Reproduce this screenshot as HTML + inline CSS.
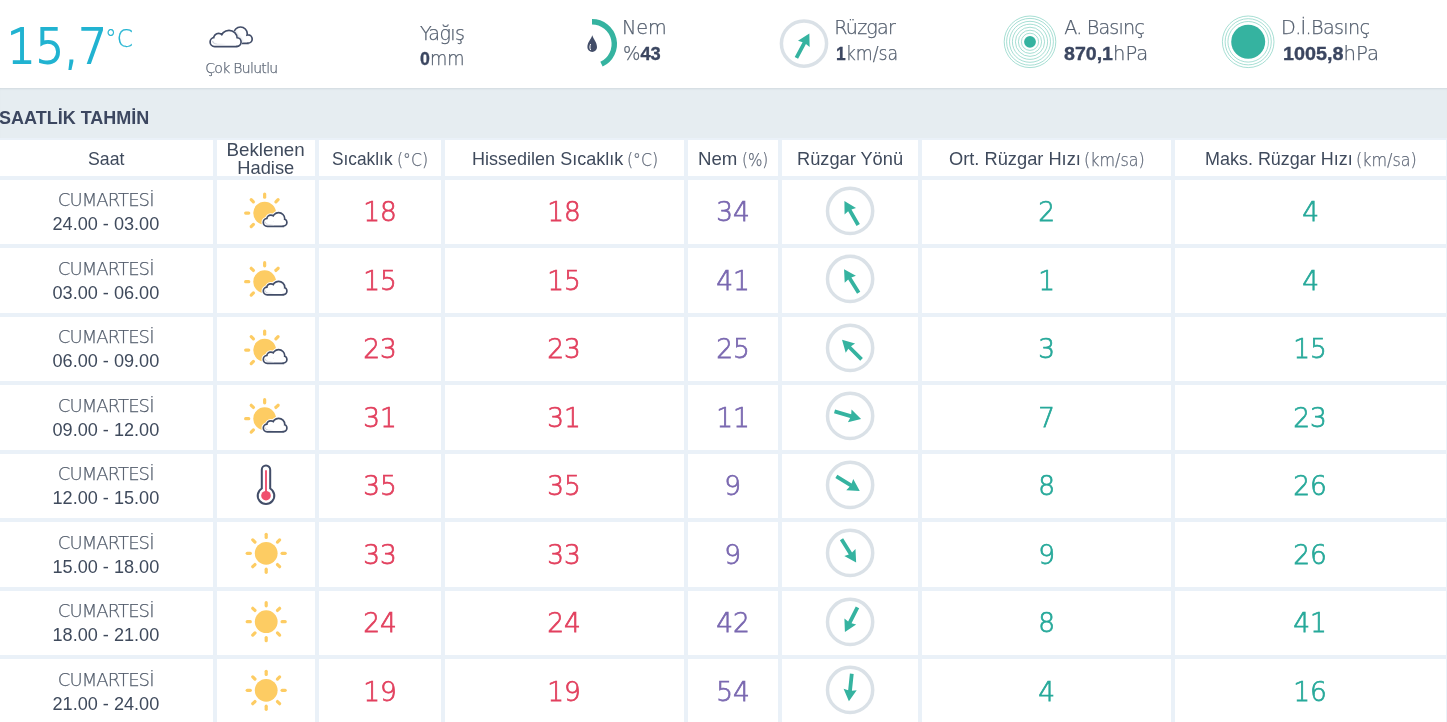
<!DOCTYPE html>
<html lang="tr"><head><meta charset="utf-8"><title>Saatlik Tahmin</title>
<style>
*{margin:0;padding:0;box-sizing:border-box}
html,body{width:1447px;height:722px;overflow:hidden;background:#fff}
body{position:relative;font-family:"Liberation Sans", Arial, sans-serif;color:#3f4a5c}
.a{position:absolute;white-space:nowrap}
.band{position:absolute;left:0;top:88px;width:1447px;height:50px;background:#e6edf1;box-shadow:inset 0 2px 2px -1px rgba(60,80,100,.12)}
.tbl{position:absolute;left:0;top:138px;width:1447px;height:584px;background:#eaf1f8}
.c{position:absolute;background:#fff}
.lt{color:#5f6878;font-family:"DejaVu Sans",sans-serif;font-weight:200;-webkit-text-stroke:.25px currentColor}
b{font-weight:bold;color:#3b4660}
svg.a{left:0;top:0;overflow:visible}
.l{font-family:"DejaVu Sans",sans-serif;font-weight:200;-webkit-text-stroke:.25px currentColor}
.n{font-family:"DejaVu Sans",sans-serif;font-weight:200;-webkit-text-stroke:.75px currentColor}
.l b{font-family:"Liberation Sans", Arial, sans-serif;-webkit-text-stroke:.35px currentColor}
</style></head><body>

<div class="a " style="left:6.5px;top:23.01px;font-size:47.6px;line-height:47.6px;color:#21b3d1;font-family:'DejaVu Sans',sans-serif;font-weight:200;-webkit-text-stroke:1.8px #21b3d1;"><span style="display:inline-block;transform:scaleX(0.945);transform-origin:left">15,7</span></div>
<div class="a l" style="left:104.5px;top:26.86px;font-size:24.5px;line-height:24.5px;color:#21b3d1;"><span style="display:inline-block;transform:scaleX(0.95);transform-origin:left">°C</span></div>
<div class="a l" style="left:205.2px;top:61.35px;font-size:14px;line-height:14px;color:#5e6877;"><span style="letter-spacing:-0.690px">Çok Bulutlu</span></div>
<div class="a l" style="left:419.9px;top:23.65px;font-size:19.2px;line-height:19.2px;color:#525d6d;"><span style="letter-spacing:-0.625px">Yağış</span></div>
<div class="a l" style="left:420px;top:49.12px;font-size:19px;line-height:19px;color:#525d6d;"><span style="display:inline-block;transform:scaleX(0.935);transform-origin:left"><b>0</b>mm</span></div>
<div class="a l" style="left:622.1px;top:17.55px;font-size:19.2px;line-height:19.2px;color:#525d6d;"><span style="letter-spacing:-0.100px">Nem</span></div>
<div class="a l" style="left:623px;top:44.12px;font-size:19px;line-height:19px;color:#525d6d;"><span style="display:inline-block;transform:scaleX(0.963);transform-origin:left">%<b>43</b></span></div>
<div class="a l" style="left:834.2px;top:17.65px;font-size:19.2px;line-height:19.2px;color:#525d6d;"><span style="letter-spacing:-0.840px">Rüzgar</span></div>
<div class="a l" style="left:836px;top:44.12px;font-size:19px;line-height:19px;color:#525d6d;"><span style="display:inline-block;transform:scaleX(0.914);transform-origin:left"><b>1</b>km/sa</span></div>
<div class="a l" style="left:1064.3px;top:17.65px;font-size:19.2px;line-height:19.2px;color:#525d6d;"><span style="letter-spacing:-0.862px">A. Basınç</span></div>
<div class="a l" style="left:1064px;top:44.12px;font-size:19px;line-height:19px;color:#525d6d;"><span style="display:inline-block;transform:scaleX(1.03);transform-origin:left"><b>870,1</b>hPa</span></div>
<div class="a l" style="left:1281.1px;top:17.65px;font-size:19.2px;line-height:19.2px;color:#525d6d;"><span style="letter-spacing:-0.678px">D.İ.Basınç</span></div>
<div class="a l" style="left:1283px;top:44.12px;font-size:19px;line-height:19px;color:#525d6d;"><span style="display:inline-block;transform:scaleX(1.04);transform-origin:left"><b>1005,8</b>hPa</span></div>
<div class="band"></div>
<div class="a " style="left:-1px;top:108.56px;font-size:18px;line-height:18px;color:#3c4760;font-weight:bold;">SAATLİK TAHMİN</div>
<div class="tbl"></div>
<div class="c" style="left:-1px;top:140px;width:214px;height:36px"></div>
<div class="a " style="left:87.74px;top:150.04px;font-size:18.5px;line-height:18.5px;color:#3f4a5c;"><span style="display:inline-block;transform:scaleX(0.9568);transform-origin:left">Saat</span></div>
<div class="c" style="left:217px;top:140px;width:98px;height:36px"></div>
<div class="a " style="left:217px;top:140.94px;font-size:18.5px;line-height:18.5px;color:#3f4a5c;width:98px;text-align:center;"><span style="display:inline-block;transform:scaleX(1.015);transform-origin:center">Beklenen</span></div>
<div class="a " style="left:217px;top:158.94px;font-size:18.5px;line-height:18.5px;color:#3f4a5c;width:98px;text-align:center;"><span style="display:inline-block;transform:scaleX(0.987);transform-origin:center">Hadise</span></div>
<div class="c" style="left:319px;top:140px;width:122px;height:36px"></div>
<div class="a " style="left:332.17px;top:150.04px;font-size:18.5px;line-height:18.5px;color:#3f4a5c;"><span style="display:inline-block;transform:scaleX(0.9344);transform-origin:left">Sıcaklık</span></div>
<div class="a l" style="left:396.7px;top:150.84px;font-size:18.5px;line-height:18.5px;color:#5f6878;"><span style="display:inline-block;transform:scaleX(0.8485);transform-origin:left">(°C)</span></div>
<div class="c" style="left:445px;top:140px;width:239px;height:36px"></div>
<div class="a " style="left:471.83px;top:150.04px;font-size:18.5px;line-height:18.5px;color:#3f4a5c;"><span style="display:inline-block;transform:scaleX(0.974);transform-origin:left">Hissedilen Sıcaklık</span></div>
<div class="a l" style="left:626.8px;top:150.84px;font-size:18.5px;line-height:18.5px;color:#5f6878;"><span style="display:inline-block;transform:scaleX(0.8485);transform-origin:left">(°C)</span></div>
<div class="c" style="left:688px;top:140px;width:90px;height:36px"></div>
<div class="a " style="left:698.19px;top:150.04px;font-size:18.5px;line-height:18.5px;color:#3f4a5c;"><span style="display:inline-block;transform:scaleX(1.0081);transform-origin:left">Nem</span></div>
<div class="a l" style="left:741.76px;top:150.84px;font-size:18.5px;line-height:18.5px;color:#5f6878;"><span style="display:inline-block;transform:scaleX(0.8207);transform-origin:left">(%)</span></div>
<div class="c" style="left:782px;top:140px;width:136px;height:36px"></div>
<div class="a " style="left:796.62px;top:150.04px;font-size:18.5px;line-height:18.5px;color:#3f4a5c;"><span style="display:inline-block;transform:scaleX(0.9849);transform-origin:left">Rüzgar Yönü</span></div>
<div class="c" style="left:922px;top:140px;width:249px;height:36px"></div>
<div class="a " style="left:949.31px;top:150.04px;font-size:18.5px;line-height:18.5px;color:#3f4a5c;"><span style="display:inline-block;transform:scaleX(0.987);transform-origin:left">Ort. Rüzgar Hızı</span></div>
<div class="a l" style="left:1083.57px;top:150.84px;font-size:18.5px;line-height:18.5px;color:#5f6878;"><span style="display:inline-block;transform:scaleX(0.8627);transform-origin:left">(km/sa)</span></div>
<div class="c" style="left:1175px;top:140px;width:271px;height:36px"></div>
<div class="a " style="left:1205.23px;top:150.04px;font-size:18.5px;line-height:18.5px;color:#3f4a5c;"><span style="display:inline-block;transform:scaleX(0.9707);transform-origin:left">Maks. Rüzgar Hızı</span></div>
<div class="a l" style="left:1355.77px;top:150.84px;font-size:18.5px;line-height:18.5px;color:#5f6878;"><span style="display:inline-block;transform:scaleX(0.8627);transform-origin:left">(km/sa)</span></div>
<div class="c" style="left:-1px;top:180px;width:214px;height:64px"></div>
<div class="c" style="left:217px;top:180px;width:98px;height:64px"></div>
<div class="c" style="left:319px;top:180px;width:122px;height:64px"></div>
<div class="c" style="left:445px;top:180px;width:239px;height:64px"></div>
<div class="c" style="left:688px;top:180px;width:90px;height:64px"></div>
<div class="c" style="left:782px;top:180px;width:136px;height:64px"></div>
<div class="c" style="left:922px;top:180px;width:249px;height:64px"></div>
<div class="c" style="left:1175px;top:180px;width:271px;height:64px"></div>
<div class="a l" style="left:-1px;top:190.96px;font-size:18px;line-height:18px;color:#525c6b;width:214px;text-align:center;"><span style="letter-spacing:-.9px;margin-right:-.9px;position:relative;left:-.8px">CUMARTESİ</span></div>
<div class="a " style="left:-1px;top:215.31px;font-size:18.3px;line-height:18.3px;color:#3f4a5c;width:214px;text-align:center;"><span style="display:inline-block;transform:scaleX(0.99);transform-origin:center">24.00 - 03.00</span></div>
<div class="a n" style="left:319px;top:199.41px;font-size:26.8px;line-height:26.8px;color:#e2405e;width:122px;text-align:center;"><span style="display:inline-block;transform:scaleX(0.985);transform-origin:center">18</span></div>
<div class="a n" style="left:445px;top:199.41px;font-size:26.8px;line-height:26.8px;color:#e2405e;width:239px;text-align:center;"><span style="display:inline-block;transform:scaleX(0.985);transform-origin:center">18</span></div>
<div class="a n" style="left:688px;top:199.41px;font-size:26.8px;line-height:26.8px;color:#7a68b0;width:90px;text-align:center;"><span style="display:inline-block;transform:scaleX(0.985);transform-origin:center">34</span></div>
<div class="a n" style="left:922px;top:199.41px;font-size:26.8px;line-height:26.8px;color:#27a99a;width:249px;text-align:center;"><span style="display:inline-block;transform:scaleX(0.985);transform-origin:center">2</span></div>
<div class="a n" style="left:1175px;top:199.41px;font-size:26.8px;line-height:26.8px;color:#27a99a;width:271px;text-align:center;"><span style="display:inline-block;transform:scaleX(0.985);transform-origin:center">4</span></div>
<div class="c" style="left:-1px;top:248px;width:214px;height:65px"></div>
<div class="c" style="left:217px;top:248px;width:98px;height:65px"></div>
<div class="c" style="left:319px;top:248px;width:122px;height:65px"></div>
<div class="c" style="left:445px;top:248px;width:239px;height:65px"></div>
<div class="c" style="left:688px;top:248px;width:90px;height:65px"></div>
<div class="c" style="left:782px;top:248px;width:136px;height:65px"></div>
<div class="c" style="left:922px;top:248px;width:249px;height:65px"></div>
<div class="c" style="left:1175px;top:248px;width:271px;height:65px"></div>
<div class="a l" style="left:-1px;top:259.96px;font-size:18px;line-height:18px;color:#525c6b;width:214px;text-align:center;"><span style="letter-spacing:-.9px;margin-right:-.9px;position:relative;left:-.8px">CUMARTESİ</span></div>
<div class="a " style="left:-1px;top:284.31px;font-size:18.3px;line-height:18.3px;color:#3f4a5c;width:214px;text-align:center;"><span style="display:inline-block;transform:scaleX(0.99);transform-origin:center">03.00 - 06.00</span></div>
<div class="a n" style="left:319px;top:268.41px;font-size:26.8px;line-height:26.8px;color:#e2405e;width:122px;text-align:center;"><span style="display:inline-block;transform:scaleX(0.985);transform-origin:center">15</span></div>
<div class="a n" style="left:445px;top:268.41px;font-size:26.8px;line-height:26.8px;color:#e2405e;width:239px;text-align:center;"><span style="display:inline-block;transform:scaleX(0.985);transform-origin:center">15</span></div>
<div class="a n" style="left:688px;top:268.41px;font-size:26.8px;line-height:26.8px;color:#7a68b0;width:90px;text-align:center;"><span style="display:inline-block;transform:scaleX(0.985);transform-origin:center">41</span></div>
<div class="a n" style="left:922px;top:268.41px;font-size:26.8px;line-height:26.8px;color:#27a99a;width:249px;text-align:center;"><span style="display:inline-block;transform:scaleX(0.985);transform-origin:center">1</span></div>
<div class="a n" style="left:1175px;top:268.41px;font-size:26.8px;line-height:26.8px;color:#27a99a;width:271px;text-align:center;"><span style="display:inline-block;transform:scaleX(0.985);transform-origin:center">4</span></div>
<div class="c" style="left:-1px;top:317px;width:214px;height:64px"></div>
<div class="c" style="left:217px;top:317px;width:98px;height:64px"></div>
<div class="c" style="left:319px;top:317px;width:122px;height:64px"></div>
<div class="c" style="left:445px;top:317px;width:239px;height:64px"></div>
<div class="c" style="left:688px;top:317px;width:90px;height:64px"></div>
<div class="c" style="left:782px;top:317px;width:136px;height:64px"></div>
<div class="c" style="left:922px;top:317px;width:249px;height:64px"></div>
<div class="c" style="left:1175px;top:317px;width:271px;height:64px"></div>
<div class="a l" style="left:-1px;top:327.96px;font-size:18px;line-height:18px;color:#525c6b;width:214px;text-align:center;"><span style="letter-spacing:-.9px;margin-right:-.9px;position:relative;left:-.8px">CUMARTESİ</span></div>
<div class="a " style="left:-1px;top:352.31px;font-size:18.3px;line-height:18.3px;color:#3f4a5c;width:214px;text-align:center;"><span style="display:inline-block;transform:scaleX(0.99);transform-origin:center">06.00 - 09.00</span></div>
<div class="a n" style="left:319px;top:336.41px;font-size:26.8px;line-height:26.8px;color:#e2405e;width:122px;text-align:center;"><span style="display:inline-block;transform:scaleX(0.985);transform-origin:center">23</span></div>
<div class="a n" style="left:445px;top:336.41px;font-size:26.8px;line-height:26.8px;color:#e2405e;width:239px;text-align:center;"><span style="display:inline-block;transform:scaleX(0.985);transform-origin:center">23</span></div>
<div class="a n" style="left:688px;top:336.41px;font-size:26.8px;line-height:26.8px;color:#7a68b0;width:90px;text-align:center;"><span style="display:inline-block;transform:scaleX(0.985);transform-origin:center">25</span></div>
<div class="a n" style="left:922px;top:336.41px;font-size:26.8px;line-height:26.8px;color:#27a99a;width:249px;text-align:center;"><span style="display:inline-block;transform:scaleX(0.985);transform-origin:center">3</span></div>
<div class="a n" style="left:1175px;top:336.41px;font-size:26.8px;line-height:26.8px;color:#27a99a;width:271px;text-align:center;"><span style="display:inline-block;transform:scaleX(0.985);transform-origin:center">15</span></div>
<div class="c" style="left:-1px;top:385px;width:214px;height:65px"></div>
<div class="c" style="left:217px;top:385px;width:98px;height:65px"></div>
<div class="c" style="left:319px;top:385px;width:122px;height:65px"></div>
<div class="c" style="left:445px;top:385px;width:239px;height:65px"></div>
<div class="c" style="left:688px;top:385px;width:90px;height:65px"></div>
<div class="c" style="left:782px;top:385px;width:136px;height:65px"></div>
<div class="c" style="left:922px;top:385px;width:249px;height:65px"></div>
<div class="c" style="left:1175px;top:385px;width:271px;height:65px"></div>
<div class="a l" style="left:-1px;top:396.96px;font-size:18px;line-height:18px;color:#525c6b;width:214px;text-align:center;"><span style="letter-spacing:-.9px;margin-right:-.9px;position:relative;left:-.8px">CUMARTESİ</span></div>
<div class="a " style="left:-1px;top:421.31px;font-size:18.3px;line-height:18.3px;color:#3f4a5c;width:214px;text-align:center;"><span style="display:inline-block;transform:scaleX(0.99);transform-origin:center">09.00 - 12.00</span></div>
<div class="a n" style="left:319px;top:405.41px;font-size:26.8px;line-height:26.8px;color:#e2405e;width:122px;text-align:center;"><span style="display:inline-block;transform:scaleX(0.985);transform-origin:center">31</span></div>
<div class="a n" style="left:445px;top:405.41px;font-size:26.8px;line-height:26.8px;color:#e2405e;width:239px;text-align:center;"><span style="display:inline-block;transform:scaleX(0.985);transform-origin:center">31</span></div>
<div class="a n" style="left:688px;top:405.41px;font-size:26.8px;line-height:26.8px;color:#7a68b0;width:90px;text-align:center;"><span style="display:inline-block;transform:scaleX(0.985);transform-origin:center">11</span></div>
<div class="a n" style="left:922px;top:405.41px;font-size:26.8px;line-height:26.8px;color:#27a99a;width:249px;text-align:center;"><span style="display:inline-block;transform:scaleX(0.985);transform-origin:center">7</span></div>
<div class="a n" style="left:1175px;top:405.41px;font-size:26.8px;line-height:26.8px;color:#27a99a;width:271px;text-align:center;"><span style="display:inline-block;transform:scaleX(0.985);transform-origin:center">23</span></div>
<div class="c" style="left:-1px;top:454px;width:214px;height:64px"></div>
<div class="c" style="left:217px;top:454px;width:98px;height:64px"></div>
<div class="c" style="left:319px;top:454px;width:122px;height:64px"></div>
<div class="c" style="left:445px;top:454px;width:239px;height:64px"></div>
<div class="c" style="left:688px;top:454px;width:90px;height:64px"></div>
<div class="c" style="left:782px;top:454px;width:136px;height:64px"></div>
<div class="c" style="left:922px;top:454px;width:249px;height:64px"></div>
<div class="c" style="left:1175px;top:454px;width:271px;height:64px"></div>
<div class="a l" style="left:-1px;top:464.96px;font-size:18px;line-height:18px;color:#525c6b;width:214px;text-align:center;"><span style="letter-spacing:-.9px;margin-right:-.9px;position:relative;left:-.8px">CUMARTESİ</span></div>
<div class="a " style="left:-1px;top:489.31px;font-size:18.3px;line-height:18.3px;color:#3f4a5c;width:214px;text-align:center;"><span style="display:inline-block;transform:scaleX(0.99);transform-origin:center">12.00 - 15.00</span></div>
<div class="a n" style="left:319px;top:473.41px;font-size:26.8px;line-height:26.8px;color:#e2405e;width:122px;text-align:center;"><span style="display:inline-block;transform:scaleX(0.985);transform-origin:center">35</span></div>
<div class="a n" style="left:445px;top:473.41px;font-size:26.8px;line-height:26.8px;color:#e2405e;width:239px;text-align:center;"><span style="display:inline-block;transform:scaleX(0.985);transform-origin:center">35</span></div>
<div class="a n" style="left:688px;top:473.41px;font-size:26.8px;line-height:26.8px;color:#7a68b0;width:90px;text-align:center;"><span style="display:inline-block;transform:scaleX(0.985);transform-origin:center">9</span></div>
<div class="a n" style="left:922px;top:473.41px;font-size:26.8px;line-height:26.8px;color:#27a99a;width:249px;text-align:center;"><span style="display:inline-block;transform:scaleX(0.985);transform-origin:center">8</span></div>
<div class="a n" style="left:1175px;top:473.41px;font-size:26.8px;line-height:26.8px;color:#27a99a;width:271px;text-align:center;"><span style="display:inline-block;transform:scaleX(0.985);transform-origin:center">26</span></div>
<div class="c" style="left:-1px;top:522px;width:214px;height:65px"></div>
<div class="c" style="left:217px;top:522px;width:98px;height:65px"></div>
<div class="c" style="left:319px;top:522px;width:122px;height:65px"></div>
<div class="c" style="left:445px;top:522px;width:239px;height:65px"></div>
<div class="c" style="left:688px;top:522px;width:90px;height:65px"></div>
<div class="c" style="left:782px;top:522px;width:136px;height:65px"></div>
<div class="c" style="left:922px;top:522px;width:249px;height:65px"></div>
<div class="c" style="left:1175px;top:522px;width:271px;height:65px"></div>
<div class="a l" style="left:-1px;top:533.96px;font-size:18px;line-height:18px;color:#525c6b;width:214px;text-align:center;"><span style="letter-spacing:-.9px;margin-right:-.9px;position:relative;left:-.8px">CUMARTESİ</span></div>
<div class="a " style="left:-1px;top:558.31px;font-size:18.3px;line-height:18.3px;color:#3f4a5c;width:214px;text-align:center;"><span style="display:inline-block;transform:scaleX(0.99);transform-origin:center">15.00 - 18.00</span></div>
<div class="a n" style="left:319px;top:542.41px;font-size:26.8px;line-height:26.8px;color:#e2405e;width:122px;text-align:center;"><span style="display:inline-block;transform:scaleX(0.985);transform-origin:center">33</span></div>
<div class="a n" style="left:445px;top:542.41px;font-size:26.8px;line-height:26.8px;color:#e2405e;width:239px;text-align:center;"><span style="display:inline-block;transform:scaleX(0.985);transform-origin:center">33</span></div>
<div class="a n" style="left:688px;top:542.41px;font-size:26.8px;line-height:26.8px;color:#7a68b0;width:90px;text-align:center;"><span style="display:inline-block;transform:scaleX(0.985);transform-origin:center">9</span></div>
<div class="a n" style="left:922px;top:542.41px;font-size:26.8px;line-height:26.8px;color:#27a99a;width:249px;text-align:center;"><span style="display:inline-block;transform:scaleX(0.985);transform-origin:center">9</span></div>
<div class="a n" style="left:1175px;top:542.41px;font-size:26.8px;line-height:26.8px;color:#27a99a;width:271px;text-align:center;"><span style="display:inline-block;transform:scaleX(0.985);transform-origin:center">26</span></div>
<div class="c" style="left:-1px;top:591px;width:214px;height:64px"></div>
<div class="c" style="left:217px;top:591px;width:98px;height:64px"></div>
<div class="c" style="left:319px;top:591px;width:122px;height:64px"></div>
<div class="c" style="left:445px;top:591px;width:239px;height:64px"></div>
<div class="c" style="left:688px;top:591px;width:90px;height:64px"></div>
<div class="c" style="left:782px;top:591px;width:136px;height:64px"></div>
<div class="c" style="left:922px;top:591px;width:249px;height:64px"></div>
<div class="c" style="left:1175px;top:591px;width:271px;height:64px"></div>
<div class="a l" style="left:-1px;top:601.96px;font-size:18px;line-height:18px;color:#525c6b;width:214px;text-align:center;"><span style="letter-spacing:-.9px;margin-right:-.9px;position:relative;left:-.8px">CUMARTESİ</span></div>
<div class="a " style="left:-1px;top:626.31px;font-size:18.3px;line-height:18.3px;color:#3f4a5c;width:214px;text-align:center;"><span style="display:inline-block;transform:scaleX(0.99);transform-origin:center">18.00 - 21.00</span></div>
<div class="a n" style="left:319px;top:610.41px;font-size:26.8px;line-height:26.8px;color:#e2405e;width:122px;text-align:center;"><span style="display:inline-block;transform:scaleX(0.985);transform-origin:center">24</span></div>
<div class="a n" style="left:445px;top:610.41px;font-size:26.8px;line-height:26.8px;color:#e2405e;width:239px;text-align:center;"><span style="display:inline-block;transform:scaleX(0.985);transform-origin:center">24</span></div>
<div class="a n" style="left:688px;top:610.41px;font-size:26.8px;line-height:26.8px;color:#7a68b0;width:90px;text-align:center;"><span style="display:inline-block;transform:scaleX(0.985);transform-origin:center">42</span></div>
<div class="a n" style="left:922px;top:610.41px;font-size:26.8px;line-height:26.8px;color:#27a99a;width:249px;text-align:center;"><span style="display:inline-block;transform:scaleX(0.985);transform-origin:center">8</span></div>
<div class="a n" style="left:1175px;top:610.41px;font-size:26.8px;line-height:26.8px;color:#27a99a;width:271px;text-align:center;"><span style="display:inline-block;transform:scaleX(0.985);transform-origin:center">41</span></div>
<div class="c" style="left:-1px;top:659px;width:214px;height:65px"></div>
<div class="c" style="left:217px;top:659px;width:98px;height:65px"></div>
<div class="c" style="left:319px;top:659px;width:122px;height:65px"></div>
<div class="c" style="left:445px;top:659px;width:239px;height:65px"></div>
<div class="c" style="left:688px;top:659px;width:90px;height:65px"></div>
<div class="c" style="left:782px;top:659px;width:136px;height:65px"></div>
<div class="c" style="left:922px;top:659px;width:249px;height:65px"></div>
<div class="c" style="left:1175px;top:659px;width:271px;height:65px"></div>
<div class="a l" style="left:-1px;top:670.96px;font-size:18px;line-height:18px;color:#525c6b;width:214px;text-align:center;"><span style="letter-spacing:-.9px;margin-right:-.9px;position:relative;left:-.8px">CUMARTESİ</span></div>
<div class="a " style="left:-1px;top:695.31px;font-size:18.3px;line-height:18.3px;color:#3f4a5c;width:214px;text-align:center;"><span style="display:inline-block;transform:scaleX(0.99);transform-origin:center">21.00 - 24.00</span></div>
<div class="a n" style="left:319px;top:679.41px;font-size:26.8px;line-height:26.8px;color:#e2405e;width:122px;text-align:center;"><span style="display:inline-block;transform:scaleX(0.985);transform-origin:center">19</span></div>
<div class="a n" style="left:445px;top:679.41px;font-size:26.8px;line-height:26.8px;color:#e2405e;width:239px;text-align:center;"><span style="display:inline-block;transform:scaleX(0.985);transform-origin:center">19</span></div>
<div class="a n" style="left:688px;top:679.41px;font-size:26.8px;line-height:26.8px;color:#7a68b0;width:90px;text-align:center;"><span style="display:inline-block;transform:scaleX(0.985);transform-origin:center">54</span></div>
<div class="a n" style="left:922px;top:679.41px;font-size:26.8px;line-height:26.8px;color:#27a99a;width:249px;text-align:center;"><span style="display:inline-block;transform:scaleX(0.985);transform-origin:center">4</span></div>
<div class="a n" style="left:1175px;top:679.41px;font-size:26.8px;line-height:26.8px;color:#27a99a;width:271px;text-align:center;"><span style="display:inline-block;transform:scaleX(0.985);transform-origin:center">16</span></div>
<svg class="a" width="1447" height="722" viewBox="0 0 1447 722"><defs><filter id="blr" x="-20%" y="-20%" width="140%" height="140%"><feGaussianBlur stdDeviation="0.9"/></filter><linearGradient id="fad" x1="0" y1="0" x2="1" y2="0"><stop offset="0" stop-color="#c8ccd6"/><stop offset="0.6" stop-color="#e6e8ee"/><stop offset="1" stop-color="#fff"/></linearGradient></defs><path fill="#fff" d="M232.85 33.80a7.65 7.65 0 1 0 15.30 0a7.65 7.65 0 1 0 -15.30 0ZM242.95 39.00a5.05 5.05 0 1 0 10.10 0a5.05 5.05 0 1 0 -10.10 0ZM231.15 38.00a4.85 4.85 0 1 0 9.70 0a4.85 4.85 0 1 0 -9.70 0ZM235.15 36.15V44.15H248.85V36.15Z"/><path fill="#424d68" d="M232.85 33.80a7.65 7.65 0 1 0 15.30 0a7.65 7.65 0 1 0 -15.30 0ZM242.95 39.00a5.05 5.05 0 1 0 10.10 0a5.05 5.05 0 1 0 -10.10 0ZM231.15 38.00a4.85 4.85 0 1 0 9.70 0a4.85 4.85 0 1 0 -9.70 0ZM235.15 36.15V44.15H248.85V36.15Z"/><path fill="#fff" d="M234.55 33.80a5.95 5.95 0 1 0 11.90 0a5.95 5.95 0 1 0 -11.90 0ZM244.65 39.00a3.35 3.35 0 1 0 6.70 0a3.35 3.35 0 1 0 -6.70 0ZM232.85 38.00a3.15 3.15 0 1 0 6.30 0a3.15 3.15 0 1 0 -6.30 0ZM236.85 37.85V42.45H247.15V37.85Z"/><clipPath id="bcl"><path d="M234.55 33.80a5.95 5.95 0 1 0 11.90 0a5.95 5.95 0 1 0 -11.90 0ZM244.65 39.00a3.35 3.35 0 1 0 6.70 0a3.35 3.35 0 1 0 -6.70 0ZM232.85 38.00a3.15 3.15 0 1 0 6.30 0a3.15 3.15 0 1 0 -6.30 0ZM236.85 37.85V42.45H247.15V37.85Z"/></clipPath><g clip-path="url(#bcl)"><g filter="url(#blr)"><path fill="#d3d7df" d="M208.50 42.00a6.20 6.20 0 1 0 12.40 0a6.20 6.20 0 1 0 -12.40 0ZM212.00 38.40a6.60 6.60 0 1 0 13.20 0a6.60 6.60 0 1 0 -13.20 0ZM219.20 38.50a9.80 9.80 0 1 0 19.60 0a9.80 9.80 0 1 0 -19.60 0ZM230.90 42.00a5.90 5.90 0 1 0 11.80 0a5.90 5.90 0 1 0 -11.80 0ZM213.10 38.40V48.20H238.40V38.40Z"/></g></g><path fill="#fff" d="M208.95 42.00a5.75 5.75 0 1 0 11.50 0a5.75 5.75 0 1 0 -11.50 0ZM212.45 38.40a6.15 6.15 0 1 0 12.30 0a6.15 6.15 0 1 0 -12.30 0ZM219.65 38.50a9.35 9.35 0 1 0 18.70 0a9.35 9.35 0 1 0 -18.70 0ZM231.35 42.00a5.45 5.45 0 1 0 10.90 0a5.45 5.45 0 1 0 -10.90 0ZM213.55 38.85V47.75H237.95V38.85Z"/><path fill="#424d68" d="M209.25 42.00a5.45 5.45 0 1 0 10.90 0a5.45 5.45 0 1 0 -10.90 0ZM212.75 38.40a5.85 5.85 0 1 0 11.70 0a5.85 5.85 0 1 0 -11.70 0ZM219.95 38.50a9.05 9.05 0 1 0 18.10 0a9.05 9.05 0 1 0 -18.10 0ZM231.65 42.00a5.15 5.15 0 1 0 10.30 0a5.15 5.15 0 1 0 -10.30 0ZM213.85 39.15V47.45H237.65V39.15Z"/><path fill="#fff" d="M210.95 42.00a3.75 3.75 0 1 0 7.50 0a3.75 3.75 0 1 0 -7.50 0ZM214.45 38.40a4.15 4.15 0 1 0 8.30 0a4.15 4.15 0 1 0 -8.30 0ZM221.65 38.50a7.35 7.35 0 1 0 14.70 0a7.35 7.35 0 1 0 -14.70 0ZM233.35 42.00a3.45 3.45 0 1 0 6.90 0a3.45 3.45 0 1 0 -6.90 0ZM215.55 40.85V45.75H235.95V40.85Z"/><path d="M212.5 40.9 Q213.2 43.8 217 44.0 L226 44.2" fill="none" stroke="url(#fad)" stroke-width="1.1"/><path d="M592 21.7 A22.3 22.3 0 0 1 601.49 64.18" fill="none" stroke="#35b3a0" stroke-width="5.4"/><path d="M592.3 35.2 C593.5 39.5 597 42 597 47.2 A4.8 4.8 0 0 1 587.4 47.2 C587.4 42 591 39.5 592.3 35.2 Z" fill="#424d68"/><path d="M590.6 44 C589.8 46 589.6 48 590.6 50" stroke="#fff" stroke-width="1" fill="none"/><circle cx="804" cy="43.6" r="22.6" fill="none" stroke="#dae1e7" stroke-width="3.5"/><g transform="translate(804 43.6) rotate(28)"><path d="M0 -11.4 L6.6 0.4 L1.9 -0.6 L1.9 16.2 L-1.9 16.2 L-1.9 -0.6 L-6.6 0.4 Z" fill="#35b3a0"/></g><circle cx="1030" cy="41.8" r="8.6" fill="none" stroke="#8fd6c8" stroke-width="0.8"/><circle cx="1030" cy="41.8" r="11.6" fill="none" stroke="#8fd6c8" stroke-width="0.8"/><circle cx="1030" cy="41.8" r="14.6" fill="none" stroke="#8fd6c8" stroke-width="0.8"/><circle cx="1030" cy="41.8" r="17.6" fill="none" stroke="#8fd6c8" stroke-width="0.8"/><circle cx="1030" cy="41.8" r="20.5" fill="none" stroke="#8fd6c8" stroke-width="0.8"/><circle cx="1030" cy="41.8" r="23.4" fill="none" stroke="#8fd6c8" stroke-width="0.8"/><circle cx="1030" cy="41.8" r="25.8" fill="none" stroke="#8fd6c8" stroke-width="0.8"/><circle cx="1030" cy="41.8" r="5.9" fill="#35b3a0"/><circle cx="1248.2" cy="41.8" r="20.3" fill="none" stroke="#8fd6c8" stroke-width="0.8"/><circle cx="1248.2" cy="41.8" r="23.1" fill="none" stroke="#8fd6c8" stroke-width="0.8"/><circle cx="1248.2" cy="41.8" r="25.8" fill="none" stroke="#8fd6c8" stroke-width="0.8"/><circle cx="1248.2" cy="41.8" r="17" fill="#35b3a0"/><g stroke="#fdcc63" stroke-width="3.2" stroke-linecap="round"><line x1="264.65" y1="197.20" x2="264.65" y2="194.10"/><line x1="275.89" y1="201.86" x2="278.09" y2="199.66"/><line x1="248.75" y1="213.10" x2="245.65" y2="213.10"/><line x1="253.41" y1="201.86" x2="251.21" y2="199.66"/><line x1="253.41" y1="224.34" x2="251.21" y2="226.54"/></g><circle cx="264.65" cy="213.1" r="11.4" fill="#fdcc63"/><path fill="#fff" d="M261.45 222.40a5.75 5.75 0 1 0 11.50 0a5.75 5.75 0 1 0 -11.50 0ZM264.95 219.20a5.85 5.85 0 1 0 11.70 0a5.85 5.85 0 1 0 -11.70 0ZM270.55 218.90a8.05 8.05 0 1 0 16.10 0a8.05 8.05 0 1 0 -16.10 0ZM277.85 222.40a5.45 5.45 0 1 0 10.90 0a5.45 5.45 0 1 0 -10.90 0ZM265.35 218.55V228.15H285.15V218.55Z"/><path fill="#424d68" d="M262.45 222.40a4.75 4.75 0 1 0 9.50 0a4.75 4.75 0 1 0 -9.50 0ZM265.95 219.20a4.85 4.85 0 1 0 9.70 0a4.85 4.85 0 1 0 -9.70 0ZM271.55 218.90a7.05 7.05 0 1 0 14.10 0a7.05 7.05 0 1 0 -14.10 0ZM278.85 222.40a4.45 4.45 0 1 0 8.90 0a4.45 4.45 0 1 0 -8.90 0ZM266.35 219.55V227.15H284.15V219.55Z"/><path fill="#fff" d="M264.15 222.40a3.05 3.05 0 1 0 6.10 0a3.05 3.05 0 1 0 -6.10 0ZM267.65 219.20a3.15 3.15 0 1 0 6.30 0a3.15 3.15 0 1 0 -6.30 0ZM273.25 218.90a5.35 5.35 0 1 0 10.70 0a5.35 5.35 0 1 0 -10.70 0ZM280.55 222.40a2.75 2.75 0 1 0 5.50 0a2.75 2.75 0 1 0 -5.50 0ZM268.05 221.25V225.45H282.45V221.25Z"/><path d="M264.90 221.60 Q265.40 224.40 268.50 224.60 L274.00 224.70" fill="none" stroke="url(#fad)" stroke-width="0.9"/><circle cx="850.1" cy="210.9" r="22.6" fill="none" stroke="#dae1e7" stroke-width="3.5"/><g transform="translate(850.1 210.9) rotate(-30)"><path d="M0 -11.4 L6.6 0.4 L1.9 -0.6 L1.9 16.2 L-1.9 16.2 L-1.9 -0.6 L-6.6 0.4 Z" fill="#35b3a0"/></g><g stroke="#fdcc63" stroke-width="3.2" stroke-linecap="round"><line x1="264.65" y1="265.80" x2="264.65" y2="262.70"/><line x1="275.89" y1="270.46" x2="278.09" y2="268.26"/><line x1="248.75" y1="281.70" x2="245.65" y2="281.70"/><line x1="253.41" y1="270.46" x2="251.21" y2="268.26"/><line x1="253.41" y1="292.94" x2="251.21" y2="295.14"/></g><circle cx="264.65" cy="281.70000000000005" r="11.4" fill="#fdcc63"/><path fill="#fff" d="M261.45 291.00a5.75 5.75 0 1 0 11.50 0a5.75 5.75 0 1 0 -11.50 0ZM264.95 287.80a5.85 5.85 0 1 0 11.70 0a5.85 5.85 0 1 0 -11.70 0ZM270.55 287.50a8.05 8.05 0 1 0 16.10 0a8.05 8.05 0 1 0 -16.10 0ZM277.85 291.00a5.45 5.45 0 1 0 10.90 0a5.45 5.45 0 1 0 -10.90 0ZM265.35 287.15V296.75H285.15V287.15Z"/><path fill="#424d68" d="M262.45 291.00a4.75 4.75 0 1 0 9.50 0a4.75 4.75 0 1 0 -9.50 0ZM265.95 287.80a4.85 4.85 0 1 0 9.70 0a4.85 4.85 0 1 0 -9.70 0ZM271.55 287.50a7.05 7.05 0 1 0 14.10 0a7.05 7.05 0 1 0 -14.10 0ZM278.85 291.00a4.45 4.45 0 1 0 8.90 0a4.45 4.45 0 1 0 -8.90 0ZM266.35 288.15V295.75H284.15V288.15Z"/><path fill="#fff" d="M264.15 291.00a3.05 3.05 0 1 0 6.10 0a3.05 3.05 0 1 0 -6.10 0ZM267.65 287.80a3.15 3.15 0 1 0 6.30 0a3.15 3.15 0 1 0 -6.30 0ZM273.25 287.50a5.35 5.35 0 1 0 10.70 0a5.35 5.35 0 1 0 -10.70 0ZM280.55 291.00a2.75 2.75 0 1 0 5.50 0a2.75 2.75 0 1 0 -5.50 0ZM268.05 289.85V294.05H282.45V289.85Z"/><path d="M264.90 290.20 Q265.40 293.00 268.50 293.20 L274.00 293.30" fill="none" stroke="url(#fad)" stroke-width="0.9"/><circle cx="850.1" cy="278.9" r="22.6" fill="none" stroke="#dae1e7" stroke-width="3.5"/><g transform="translate(850.1 278.9) rotate(-32)"><path d="M0 -11.4 L6.6 0.4 L1.9 -0.6 L1.9 16.2 L-1.9 16.2 L-1.9 -0.6 L-6.6 0.4 Z" fill="#35b3a0"/></g><g stroke="#fdcc63" stroke-width="3.2" stroke-linecap="round"><line x1="264.65" y1="334.20" x2="264.65" y2="331.10"/><line x1="275.89" y1="338.86" x2="278.09" y2="336.66"/><line x1="248.75" y1="350.10" x2="245.65" y2="350.10"/><line x1="253.41" y1="338.86" x2="251.21" y2="336.66"/><line x1="253.41" y1="361.34" x2="251.21" y2="363.54"/></g><circle cx="264.65" cy="350.1" r="11.4" fill="#fdcc63"/><path fill="#fff" d="M261.45 359.40a5.75 5.75 0 1 0 11.50 0a5.75 5.75 0 1 0 -11.50 0ZM264.95 356.20a5.85 5.85 0 1 0 11.70 0a5.85 5.85 0 1 0 -11.70 0ZM270.55 355.90a8.05 8.05 0 1 0 16.10 0a8.05 8.05 0 1 0 -16.10 0ZM277.85 359.40a5.45 5.45 0 1 0 10.90 0a5.45 5.45 0 1 0 -10.90 0ZM265.35 355.55V365.15H285.15V355.55Z"/><path fill="#424d68" d="M262.45 359.40a4.75 4.75 0 1 0 9.50 0a4.75 4.75 0 1 0 -9.50 0ZM265.95 356.20a4.85 4.85 0 1 0 9.70 0a4.85 4.85 0 1 0 -9.70 0ZM271.55 355.90a7.05 7.05 0 1 0 14.10 0a7.05 7.05 0 1 0 -14.10 0ZM278.85 359.40a4.45 4.45 0 1 0 8.90 0a4.45 4.45 0 1 0 -8.90 0ZM266.35 356.55V364.15H284.15V356.55Z"/><path fill="#fff" d="M264.15 359.40a3.05 3.05 0 1 0 6.10 0a3.05 3.05 0 1 0 -6.10 0ZM267.65 356.20a3.15 3.15 0 1 0 6.30 0a3.15 3.15 0 1 0 -6.30 0ZM273.25 355.90a5.35 5.35 0 1 0 10.70 0a5.35 5.35 0 1 0 -10.70 0ZM280.55 359.40a2.75 2.75 0 1 0 5.50 0a2.75 2.75 0 1 0 -5.50 0ZM268.05 358.25V362.45H282.45V358.25Z"/><path d="M264.90 358.60 Q265.40 361.40 268.50 361.60 L274.00 361.70" fill="none" stroke="url(#fad)" stroke-width="0.9"/><circle cx="850.1" cy="347.9" r="22.6" fill="none" stroke="#dae1e7" stroke-width="3.5"/><g transform="translate(850.1 347.9) rotate(-45)"><path d="M0 -11.4 L6.6 0.4 L1.9 -0.6 L1.9 16.2 L-1.9 16.2 L-1.9 -0.6 L-6.6 0.4 Z" fill="#35b3a0"/></g><g stroke="#fdcc63" stroke-width="3.2" stroke-linecap="round"><line x1="264.65" y1="402.80" x2="264.65" y2="399.70"/><line x1="275.89" y1="407.46" x2="278.09" y2="405.26"/><line x1="248.75" y1="418.70" x2="245.65" y2="418.70"/><line x1="253.41" y1="407.46" x2="251.21" y2="405.26"/><line x1="253.41" y1="429.94" x2="251.21" y2="432.14"/></g><circle cx="264.65" cy="418.70000000000005" r="11.4" fill="#fdcc63"/><path fill="#fff" d="M261.45 428.00a5.75 5.75 0 1 0 11.50 0a5.75 5.75 0 1 0 -11.50 0ZM264.95 424.80a5.85 5.85 0 1 0 11.70 0a5.85 5.85 0 1 0 -11.70 0ZM270.55 424.50a8.05 8.05 0 1 0 16.10 0a8.05 8.05 0 1 0 -16.10 0ZM277.85 428.00a5.45 5.45 0 1 0 10.90 0a5.45 5.45 0 1 0 -10.90 0ZM265.35 424.15V433.75H285.15V424.15Z"/><path fill="#424d68" d="M262.45 428.00a4.75 4.75 0 1 0 9.50 0a4.75 4.75 0 1 0 -9.50 0ZM265.95 424.80a4.85 4.85 0 1 0 9.70 0a4.85 4.85 0 1 0 -9.70 0ZM271.55 424.50a7.05 7.05 0 1 0 14.10 0a7.05 7.05 0 1 0 -14.10 0ZM278.85 428.00a4.45 4.45 0 1 0 8.90 0a4.45 4.45 0 1 0 -8.90 0ZM266.35 425.15V432.75H284.15V425.15Z"/><path fill="#fff" d="M264.15 428.00a3.05 3.05 0 1 0 6.10 0a3.05 3.05 0 1 0 -6.10 0ZM267.65 424.80a3.15 3.15 0 1 0 6.30 0a3.15 3.15 0 1 0 -6.30 0ZM273.25 424.50a5.35 5.35 0 1 0 10.70 0a5.35 5.35 0 1 0 -10.70 0ZM280.55 428.00a2.75 2.75 0 1 0 5.50 0a2.75 2.75 0 1 0 -5.50 0ZM268.05 426.85V431.05H282.45V426.85Z"/><path d="M264.90 427.20 Q265.40 430.00 268.50 430.20 L274.00 430.30" fill="none" stroke="url(#fad)" stroke-width="0.9"/><circle cx="850.1" cy="415.9" r="22.6" fill="none" stroke="#dae1e7" stroke-width="3.5"/><g transform="translate(850.1 415.9) rotate(106)"><path d="M0 -11.4 L6.6 0.4 L1.9 -0.6 L1.9 16.2 L-1.9 16.2 L-1.9 -0.6 L-6.6 0.4 Z" fill="#35b3a0"/></g><path d="M261.80 488.50 V469.70 a4.2 4.2 0 0 1 8.4 0 V488.50 a8.3 8.3 0 1 1 -8.4 0 z" fill="#fff" stroke="#424d68" stroke-width="2"/><line x1="266" y1="471.00" x2="266" y2="495.70" stroke="#f0506e" stroke-width="1.9" stroke-linecap="round"/><circle cx="266" cy="495.70" r="4.8" fill="#f0506e"/><circle cx="850.1" cy="484.9" r="22.6" fill="none" stroke="#dae1e7" stroke-width="3.5"/><g transform="translate(850.1 484.9) rotate(122)"><path d="M0 -11.4 L6.6 0.4 L1.9 -0.6 L1.9 16.2 L-1.9 16.2 L-1.9 -0.6 L-6.6 0.4 Z" fill="#35b3a0"/></g><g stroke="#fdcc63" stroke-width="3.2" stroke-linecap="round"><line x1="266.20" y1="537.40" x2="266.20" y2="534.30"/><line x1="277.44" y1="542.06" x2="279.64" y2="539.86"/><line x1="282.10" y1="553.30" x2="285.20" y2="553.30"/><line x1="277.44" y1="564.54" x2="279.64" y2="566.74"/><line x1="266.20" y1="569.20" x2="266.20" y2="572.30"/><line x1="254.96" y1="564.54" x2="252.76" y2="566.74"/><line x1="250.30" y1="553.30" x2="247.20" y2="553.30"/><line x1="254.96" y1="542.06" x2="252.76" y2="539.86"/></g><circle cx="266.2" cy="553.3000000000001" r="11.4" fill="#fdcc63"/><circle cx="850.1" cy="552.9" r="22.6" fill="none" stroke="#dae1e7" stroke-width="3.5"/><g transform="translate(850.1 552.9) rotate(148)"><path d="M0 -11.4 L6.6 0.4 L1.9 -0.6 L1.9 16.2 L-1.9 16.2 L-1.9 -0.6 L-6.6 0.4 Z" fill="#35b3a0"/></g><g stroke="#fdcc63" stroke-width="3.2" stroke-linecap="round"><line x1="266.20" y1="605.80" x2="266.20" y2="602.70"/><line x1="277.44" y1="610.46" x2="279.64" y2="608.26"/><line x1="282.10" y1="621.70" x2="285.20" y2="621.70"/><line x1="277.44" y1="632.94" x2="279.64" y2="635.14"/><line x1="266.20" y1="637.60" x2="266.20" y2="640.70"/><line x1="254.96" y1="632.94" x2="252.76" y2="635.14"/><line x1="250.30" y1="621.70" x2="247.20" y2="621.70"/><line x1="254.96" y1="610.46" x2="252.76" y2="608.26"/></g><circle cx="266.2" cy="621.7" r="11.4" fill="#fdcc63"/><circle cx="850.1" cy="621.9" r="22.6" fill="none" stroke="#dae1e7" stroke-width="3.5"/><g transform="translate(850.1 621.9) rotate(207)"><path d="M0 -11.4 L6.6 0.4 L1.9 -0.6 L1.9 16.2 L-1.9 16.2 L-1.9 -0.6 L-6.6 0.4 Z" fill="#35b3a0"/></g><g stroke="#fdcc63" stroke-width="3.2" stroke-linecap="round"><line x1="266.20" y1="674.40" x2="266.20" y2="671.30"/><line x1="277.44" y1="679.06" x2="279.64" y2="676.86"/><line x1="282.10" y1="690.30" x2="285.20" y2="690.30"/><line x1="277.44" y1="701.54" x2="279.64" y2="703.74"/><line x1="266.20" y1="706.20" x2="266.20" y2="709.30"/><line x1="254.96" y1="701.54" x2="252.76" y2="703.74"/><line x1="250.30" y1="690.30" x2="247.20" y2="690.30"/><line x1="254.96" y1="679.06" x2="252.76" y2="676.86"/></g><circle cx="266.2" cy="690.3000000000001" r="11.4" fill="#fdcc63"/><circle cx="850.1" cy="689.9" r="22.6" fill="none" stroke="#dae1e7" stroke-width="3.5"/><g transform="translate(850.1 689.9) rotate(186)"><path d="M0 -11.4 L6.6 0.4 L1.9 -0.6 L1.9 16.2 L-1.9 16.2 L-1.9 -0.6 L-6.6 0.4 Z" fill="#35b3a0"/></g></svg>
</body></html>
